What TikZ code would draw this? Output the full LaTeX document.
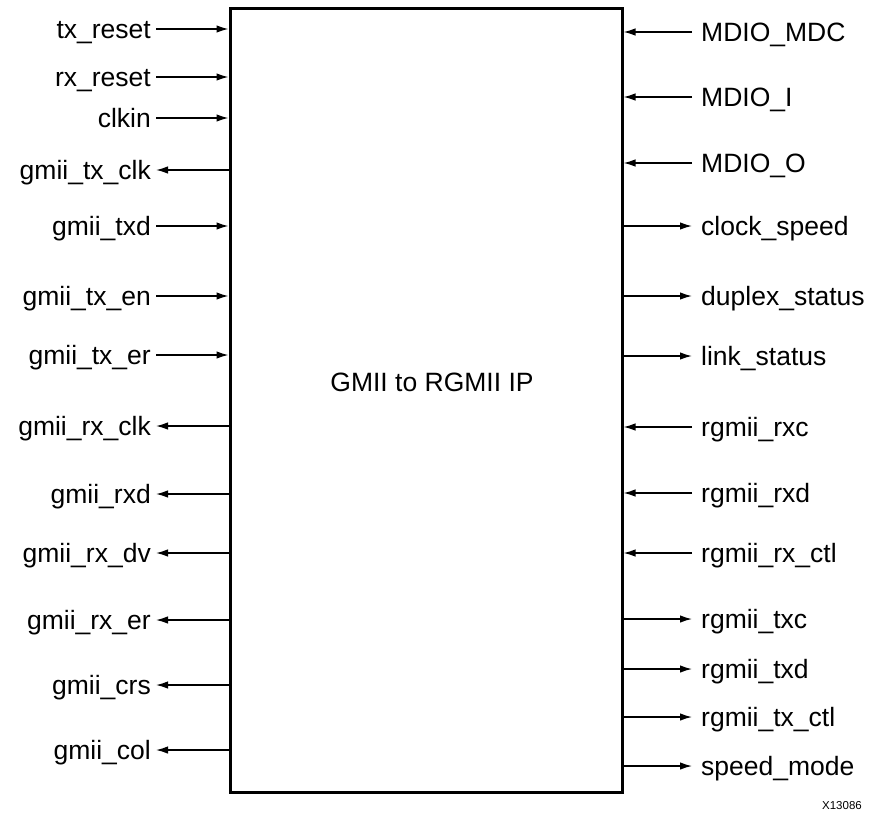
\documentclass[tikz,border=0pt]{standalone}
\usepackage{fontspec}
\setmainfont{Liberation Sans}
\usetikzlibrary{arrows.meta,positioning}

\begin{document}
\begin{tikzpicture}[x=1pt, y=-1pt, >={Latex[length=12pt,width=7.5pt]}, %Pfeilspitzen
	font=\fontsize{26.5}{31}\selectfont,
	sig/.style={line width=1.4pt},
	lsig/.style={anchor=east, inner xsep=5pt, inner ysep=0pt, text height=19pt, text depth=0pt},
	rsig/.style={anchor=west, inner xsep=9pt, inner ysep=0pt, text height=19pt, text depth=0pt}]
	\useasboundingbox (0,0) rectangle (872,815);
	\node[draw, line width=3pt, minimum width=392pt, minimum height=784pt, inner sep=0pt] (ip) at (426,400) {};
	\node[text height=19pt, text depth=0pt, inner sep=0pt] (title) at (432,382) {GMII to RGMII IP};
	% linke Seite
	\node[lsig] (txreset) at (156,29) {tx\_reset};
	\node[lsig] (rxreset) at (156,77) {rx\_reset};
	\node[lsig] (clkin) at (156,118) {clkin};
	\node[lsig] (txclk) at (156,170) {gmii\_tx\_clk};
	\node[lsig] (txd) at (156,226) {gmii\_txd};
	\node[lsig] (txen) at (156,296) {gmii\_tx\_en};
	\node[lsig] (txer) at (156,355) {gmii\_tx\_er};
	\node[lsig] (rxclk) at (156,426) {gmii\_rx\_clk};
	\node[lsig] (rxd) at (156,494) {gmii\_rxd};
	\node[lsig] (rxdv) at (156,553) {gmii\_rx\_dv};
	\node[lsig] (rxer) at (156,620) {gmii\_rx\_er};
	\node[lsig] (crs) at (156,685) {gmii\_crs};
	\node[lsig] (col) at (156,750) {gmii\_col};
	\draw[sig,->] (txreset) -- (txreset -| ip.west);
	\draw[sig,->] (rxreset) -- (rxreset -| ip.west);
	\draw[sig,->] (clkin) -- (clkin -| ip.west);
	\draw[sig,->] (txclk -| ip.west) -- (txclk);
	\draw[sig,->] (txd) -- (txd -| ip.west);
	\draw[sig,->] (txen) -- (txen -| ip.west);
	\draw[sig,->] (txer) -- (txer -| ip.west);
	\draw[sig,->] (rxclk -| ip.west) -- (rxclk);
	\draw[sig,->] (rxd -| ip.west) -- (rxd);
	\draw[sig,->] (rxdv -| ip.west) -- (rxdv);
	\draw[sig,->] (rxer -| ip.west) -- (rxer);
	\draw[sig,->] (crs -| ip.west) -- (crs);
	\draw[sig,->] (col -| ip.west) -- (col);
	% rechte Seite
	\node[rsig] (mdc) at (692,32) {MDIO\_MDC};
	\node[rsig] (mdioi) at (692,97) {MDIO\_I};
	\node[rsig] (mdioo) at (692,163) {MDIO\_O};
	\node[rsig] (clkspeed) at (692,226) {clock\_speed};
	\node[rsig] (duplex) at (692,296) {duplex\_status};
	\node[rsig] (link) at (692,356) {link\_status};
	\node[rsig] (rxc) at (692,427) {rgmii\_rxc};
	\node[rsig] (rgrxd) at (692,493) {rgmii\_rxd};
	\node[rsig] (rxctl) at (692,553) {rgmii\_rx\_ctl};
	\node[rsig] (txc) at (692,619) {rgmii\_txc};
	\node[rsig] (rgtxd) at (692,669) {rgmii\_txd};
	\node[rsig] (txctl) at (692,717) {rgmii\_tx\_ctl};
	\node[rsig] (speed) at (692,766) {speed\_mode};
	\draw[sig,->] (mdc) -- (mdc -| ip.east);
	\draw[sig,->] (mdioi) -- (mdioi -| ip.east);
	\draw[sig,->] (mdioo) -- (mdioo -| ip.east);
	\draw[sig,->] (clkspeed -| ip.east) -- (clkspeed);
	\draw[sig,->] (duplex -| ip.east) -- (duplex);
	\draw[sig,->] (link -| ip.east) -- (link);
	\draw[sig,->] (rxc) -- (rxc -| ip.east);
	\draw[sig,->] (rgrxd) -- (rgrxd -| ip.east);
	\draw[sig,->] (rxctl) -- (rxctl -| ip.east);
	\draw[sig,->] (txc -| ip.east) -- (txc);
	\draw[sig,->] (rgtxd -| ip.east) -- (rgtxd);
	\draw[sig,->] (txctl -| ip.east) -- (txctl);
	\draw[sig,->] (speed -| ip.east) -- (speed);
	\node[anchor=east, font=\fontsize{11.5}{13}\selectfont, inner sep=0pt] (fignum) at (862,806) {X13086};
\end{tikzpicture}
\end{document}
